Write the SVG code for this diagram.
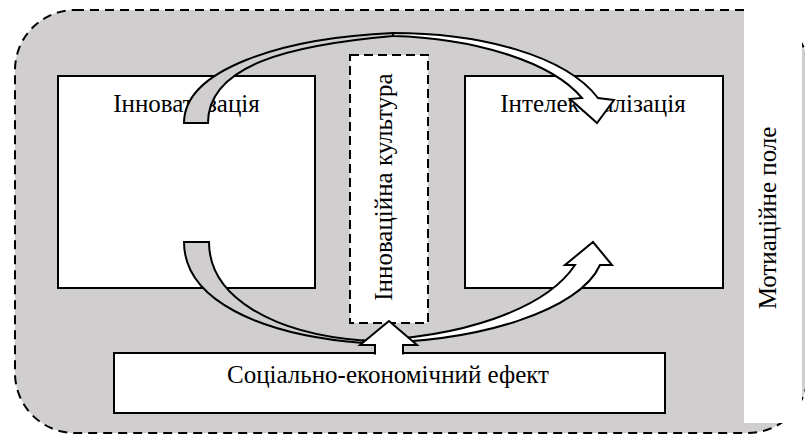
<svg xmlns="http://www.w3.org/2000/svg" width="805" height="436" viewBox="0 0 805 436">
<style>
.box{fill:#fff;stroke:#000;stroke-width:2}
.dash{fill:#fff;stroke:#000;stroke-width:2;stroke-dasharray:9 5}
.t{font-family:"Liberation Serif","Times New Roman",serif;font-size:25px;fill:#000}
.band{stroke:#000;stroke-width:2;stroke-linejoin:miter}
</style>
<g id="field">
<rect x="15" y="10" width="793" height="423" rx="60" ry="60" fill="#d0cecf" stroke="#000" stroke-width="2" stroke-dasharray="9 6"/>
<rect x="744" y="8" width="58" height="415" fill="#fff"/>
<text class="t" transform="translate(776,218) rotate(-90)" text-anchor="middle">Мотиаційне поле</text>
</g>
<g id="innov">
<rect class="box" x="58" y="76" width="257" height="212"/>
<text class="t" x="186.5" y="112" text-anchor="middle">Інноватизація</text>
</g>
<g id="intel">
<rect class="box" x="465" y="76" width="258" height="212"/>
<text class="t" x="593" y="112" text-anchor="middle">Інтелектуалізація</text>
</g>
<g id="culture">
<rect class="dash" x="350" y="55" width="78" height="268"/>
<text class="t" transform="translate(392,187) rotate(-90)" text-anchor="middle">Інноваційна культура</text>
</g>
<g id="effect">
<rect class="box" x="114" y="353" width="551" height="60"/>
<text class="t" x="388" y="383" text-anchor="middle">Соціально-економічний ефект</text>
</g>
<g id="connectors">
<path class="band" fill="#d0cecf" d="M184,123 C184,70 280,38 393,33 L393,36 C290,45 208,65 208,123 Z"/>
<path class="band" fill="#fff" d="M393,33 C480,33 565,55 598,98 L614,100 L597,123 L570,99 L582,98 C550,60 470,38 393,36 Z"/>
<path class="band" fill="#d0cecf" d="M184,242 C184,300 260,335 363,343 L363,340.5 C275,334 209,298 209,242 Z"/>
<path class="band" fill="#fff" d="M363,343 C480,343 580,310 600,265 L612,265 L593,242 L565,265 L575,265 C545,310 460,338 363,340.5 Z"/>
<path class="band" fill="#fff" d="M375,354.5 L375,345 L360,345 L389,321 L417,345 L403,345 L403,354.5"/>
</g>
</svg>
